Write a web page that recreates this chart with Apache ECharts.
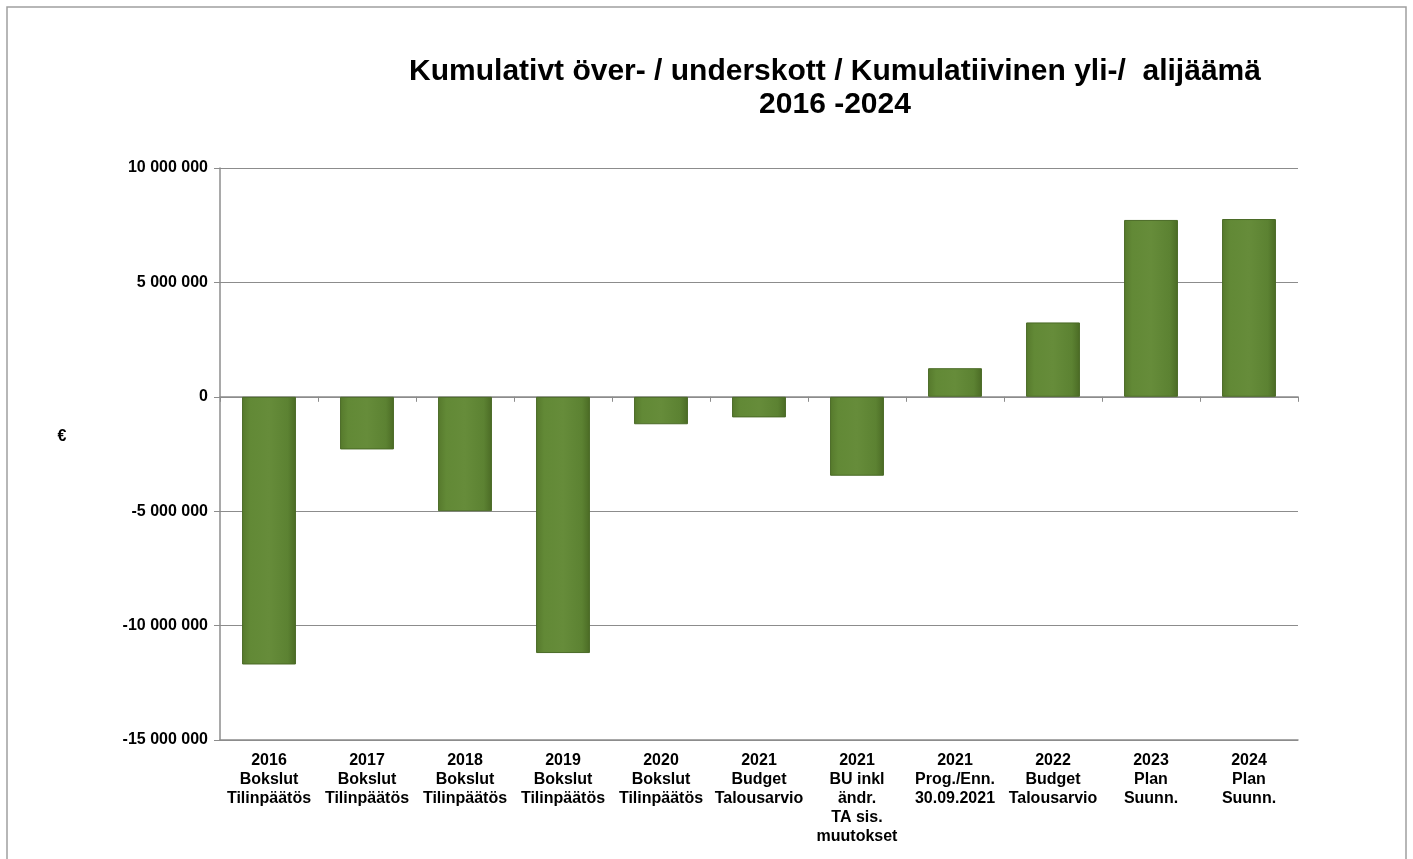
<!DOCTYPE html>
<html>
<head>
<meta charset="utf-8">
<script src="https://cdn.jsdelivr.net/npm/echarts@6/dist/echarts.min.js"></script>
<style>html,body{margin:0;padding:0;background:#fff}#c{width:1413px;height:859px}</style>
</head>
<body>
<div id="c"></div>
<script>
const categories = [
  "2016\nBokslut\nTilinpäätös",
  "2017\nBokslut\nTilinpäätös",
  "2018\nBokslut\nTilinpäätös",
  "2019\nBokslut\nTilinpäätös",
  "2020\nBokslut\nTilinpäätös",
  "2021\nBudget\nTalousarvio",
  "2021\nBU inkl\nändr.\nTA sis.\nmuutokset",
  "2021\nProg./Enn.\n30.09.2021",
  "2022\nBudget\nTalousarvio",
  "2023\nPlan\nSuunn.",
  "2024\nPlan\nSuunn."
];
const values = [-11700000, -2300000, -5000000, -11200000, -1200000, -900000, -3450000, 1250000, 3250000, 7730000, 7770000];
const titleText = "Kumulativt över- / underskott / Kumulatiivinen yli-/  alijäämä\n2016 -2024";
const yAxisName = "€";

const font = "'Liberation Sans', Arial, sans-serif";
const chart = echarts.init(document.getElementById('c'), null, {renderer: 'canvas'});
const barColor = new echarts.graphic.LinearGradient(0, 0, 1, 0, [
  {offset: 0, color: '#56792c'},
  {offset: 0.15, color: '#628936'},
  {offset: 0.5, color: '#668c3a'},
  {offset: 0.85, color: '#5c8232'},
  {offset: 1, color: '#4b6b25'}
]);
chart.setOption({
  backgroundColor: '#fff',
  animation: false,
  title: {
    text: titleText,
    left: 830,
    top: 50,
    textAlign: 'center',
    textStyle: {fontFamily: font, fontWeight: 'bold', fontSize: 30, lineHeight: 33, color: '#000'}
  },
  graphic: [
    {type: 'rect', shape: {x: 7, y: 7, width: 1399, height: 870}, style: {fill: 'none', stroke: '#a0a0a0', lineWidth: 1.5}, silent: true},
    {type: 'text', x: 62, y: 437, style: {text: yAxisName, fontFamily: font, fontWeight: 'bold', fontSize: 16, fill: '#000', align: 'center', verticalAlign: 'middle'}}
  ],
  grid: {left: 220, right: 115, top: 168, bottom: 119, containLabel: false},
  xAxis: [
    {
      type: 'category', data: categories, position: 'bottom',
      axisLine: {onZero: true, lineStyle: {color: '#8c8c8c', width: 1.5}},
      axisTick: {show: true, length: 5, lineStyle: {color: '#8c8c8c'}},
      axisLabel: {show: false}
    },
    {
      type: 'category', data: categories, position: 'bottom',
      axisLine: {onZero: false, show: true, lineStyle: {color: '#8c8c8c', width: 1.5}},
      axisTick: {show: false},
      axisLabel: {interval: 0, margin: 11, fontFamily: font, fontWeight: 'bold', fontSize: 16, lineHeight: 19, color: '#000'}
    }
  ],
  yAxis: {
    type: 'value', min: -15000000, max: 10000000, interval: 5000000,
    axisLine: {show: true, lineStyle: {color: '#8c8c8c', width: 1.5}},
    axisTick: {show: true, length: 6, lineStyle: {color: '#8c8c8c'}},
    splitLine: {show: true, lineStyle: {color: '#8c8c8c', width: 1.2}},
    axisLabel: {
      margin: 12, fontFamily: font, fontWeight: 'bold', fontSize: 16, color: '#000',
      formatter: v => {
        const s = Math.abs(v).toString().replace(/\B(?=(\d{3})+(?!\d))/g, ' ');
        return (v < 0 ? '-' : '') + s;
      }
    }
  },
  series: [{
    type: 'bar', data: values, xAxisIndex: 0, barWidth: '55%',
    itemStyle: {color: barColor, borderColor: '#4a6a26', borderWidth: 1}
  }]
});
</script>
</body>
</html>
